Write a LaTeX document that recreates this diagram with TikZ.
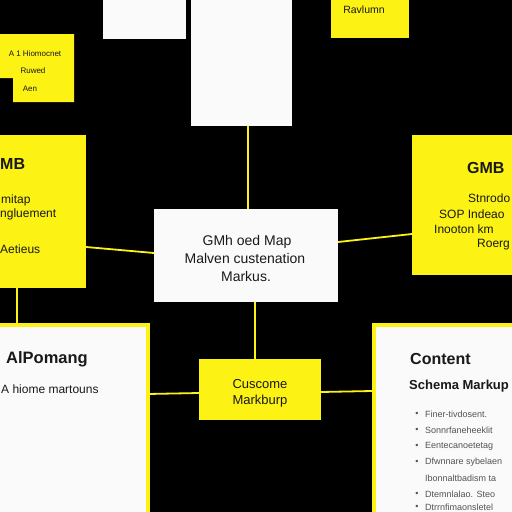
\documentclass[tikz,border=0pt]{standalone}
\usepackage{fontspec}
\setmainfont{Liberation Sans}
\definecolor{ylw}{RGB}{252,242,20}
\definecolor{wht}{RGB}{250,250,250}
\definecolor{txt}{RGB}{25,25,25}
\begin{document}
\begin{tikzpicture}[x=1pt,y=-1pt,
  ybox/.style={fill=ylw,draw=none},
  wbox/.style={fill=wht,draw=none},
  bwbox/.style={fill=wht,draw=ylw,line width=4pt},
  link/.style={draw=ylw,line width=1.8pt},
  lbl/.style={inner sep=0pt,text=txt,font=\fontsize{#1}{#1}\selectfont},
  blbl/.style={inner sep=0pt,text=txt,font=\fontsize{#1}{#1}\selectfont\bfseries},
  glbl/.style={inner sep=0pt,text=gray!65!black,font=\fontsize{#1}{#1}\selectfont}]
\useasboundingbox (0,0) rectangle (512,512);
\fill[black] (0,0) rectangle (512,512);
\clip (0,0) rectangle (512,512);
% connectors (drawn first, under boxes)
\coordinate (c1a) at (248,126); \coordinate (c1b) at (248,209);
\draw[link] (c1a) -- (c1b);
\coordinate (c2a) at (255,302); \coordinate (c2b) at (255,359);
\draw[link] (c2a) -- (c2b);
\coordinate (c3a) at (86,247); \coordinate (c3b) at (154,253);
\draw[link] (c3a) -- (c3b);
\coordinate (c4a) at (338,242); \coordinate (c4b) at (412,234);
\draw[link] (c4a) -- (c4b);
\coordinate (c5a) at (148,394); \coordinate (c5b) at (199,393);
\draw[link] (c5a) -- (c5b);
\coordinate (c6a) at (321,392); \coordinate (c6b) at (372,391);
\draw[link] (c6a) -- (c6b);
\coordinate (c7a) at (17,288); \coordinate (c7b) at (17,326);
\draw[link] (c7a) -- (c7b);
% top boxes
\fill[wbox] (103,-2) rectangle (186,39);
\fill[wbox] (191,-2) rectangle (292,126);
\fill[ybox] (331,-2) rectangle (409,38);
\node[lbl=10.5] (rav) at (364,10) {Ravlumn};
% top-left L-shaped box
\fill[ybox] (0,34) -- (74,34) -- (74,102) -- (13,102) -- (13,78) -- (0,78) -- cycle;
\node[lbl=8] (tl1) at (35,54) {A 1 Hiomocnet};
\node[lbl=8] (tl2) at (33,71) {Ruwed};
\node[lbl=8] (tl3) at (30,89) {Aen};
% left yellow box
\fill[ybox] (-2,135) rectangle (86,288);
\node[blbl=16,anchor=west] (lt1) at (0,164) {MB};
\node[lbl=12,anchor=west] (lt2) at (1,200) {mitap};
\node[lbl=12,anchor=west] (lt3) at (0,214) {ngluement};
\node[lbl=12,anchor=west] (lt4) at (0,249) {Aetieus};
% right yellow box
\fill[ybox] (412,135) rectangle (514,275);
\node[blbl=16,anchor=west] (rt1) at (467,168) {GMB};
\node[lbl=12,anchor=west] (rt2) at (468,198) {Stnrodo};
\node[lbl=12,anchor=west] (rt3) at (439,214) {SOP Indeao};
\node[lbl=12,anchor=west] (rt4) at (434,229) {Inooton km};
\node[lbl=12,anchor=west] (rt5) at (477,245) {Roerg};
% center white box
\fill[wbox] (154,209) rectangle (338,302);
\node[lbl=14] (ct1) at (247,242) {GMh oed Map};
\node[lbl=14] (ct2) at (245,258) {Malven custenation};
\node[lbl=14] (ct3) at (246,276) {Markus.};
% bottom center yellow box
\fill[ybox] (199,359) rectangle (321,420);
\node[lbl=13] (bc1) at (260,384) {Cuscome};
\node[lbl=13] (bc2) at (260,401) {Markburp};
% bottom-left box
\draw[bwbox] (-3,325) rectangle (148,515);
\node[blbl=16.5,anchor=west] (bl1) at (6,359) {AlPomang};
\node[lbl=12,anchor=west] (bl2) at (1,389) {A hiome martouns};
% bottom-right box
\draw[bwbox] (374,325) rectangle (515,515);
\node[blbl=16,anchor=west] (br1) at (410,359) {Content};
\node[blbl=13,anchor=west] (br2) at (409,386) {Schema Markup};
\foreach \yy/\tt [count=\i] in {414/Finer-tivdosent.,430/Sonnrfaneheeklit,446/Eentecanoetetag,462/Dfwnnare sybelaen,494/Dtemnlalao. Steo,507/Dtrrnfimaonsletel}{
  \node[glbl=9] (bu\i) at (417,\yy) {\textbullet};
  \node[glbl=9,anchor=west] (bt\i) at (425,\yy) {\tt};
}
\node[glbl=9,anchor=west] (bt7) at (425,478) {Ibonnaltbadism ta};
\end{tikzpicture}
\end{document}
